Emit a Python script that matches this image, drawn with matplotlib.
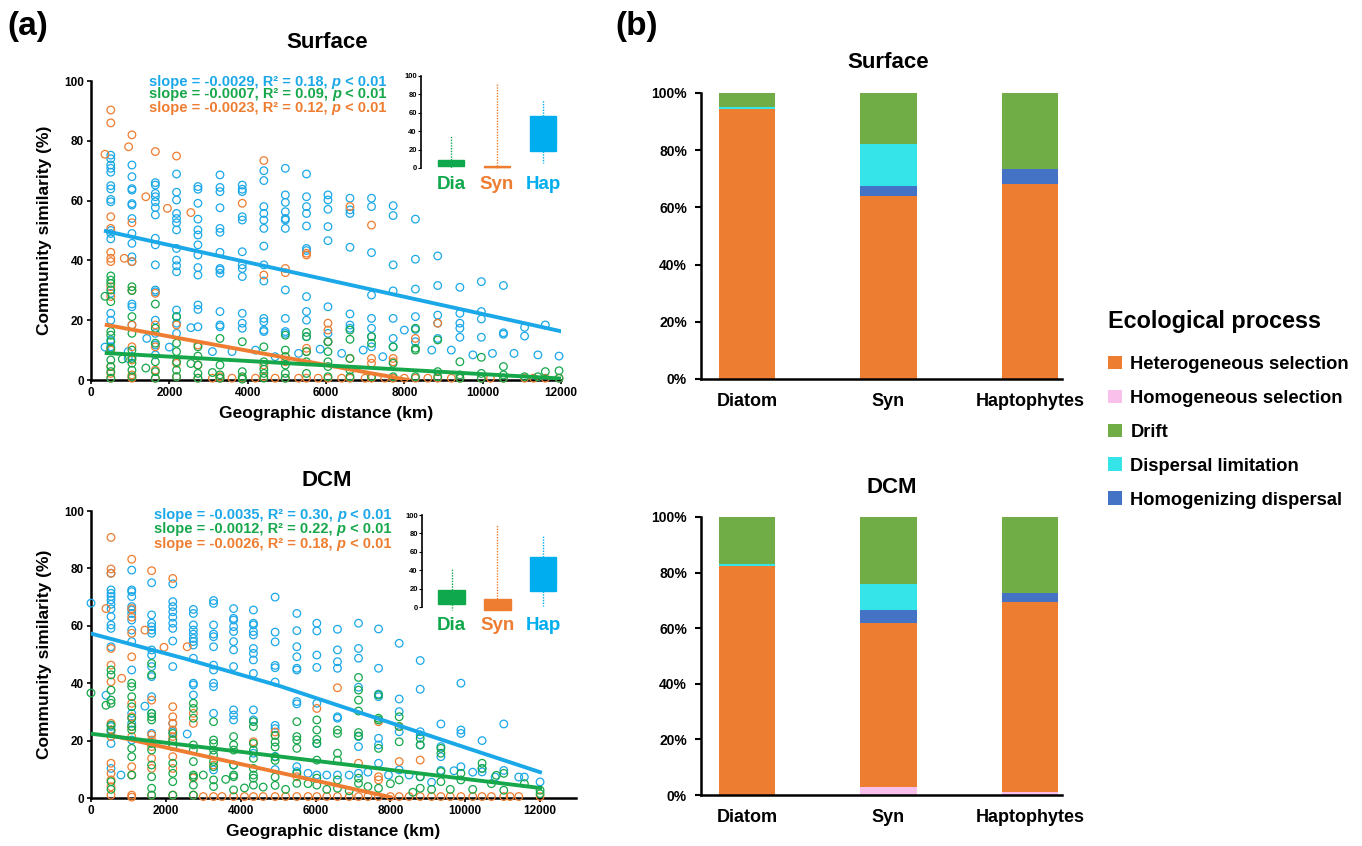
import matplotlib.pyplot as plt
from matplotlib.patches import Patch

plt.rcParams['font.family'] = ['Liberation Sans', 'DejaVu Sans']
plt.rcParams['font.weight'] = 'bold'
plt.rcParams['axes.labelweight'] = 'bold'

# ---------------- data: (a) distance-decay scatter ----------------
# distance (km) -> community similarity (%) read per column
surf_hap = {357: [11], 505: [75.2, 74, 71.9, 70.8, 69.5, 65, 63.9, 60.4, 59.6, 50, 49, 47.2, 29, 22.3, 20, 13.4, 11.1],
            950: [7.2, 9.5], 1045: [71.9, 68, 64, 63.5, 59, 58.5, 54, 49, 45.7, 41.2, 39.6, 25.4, 24.5, 18.4, 7.8],
            1424: [13.9], 1643: [66, 65.2, 62.4, 61.3, 59.6, 57.7, 55.2, 47.4, 45.2, 38.5, 30.1, 29.5, 20, 15.6, 11.7, 8.4],
            2000: [11], 2184: [68.9, 62.8, 60.2, 55.7, 54, 52.6, 50.2, 44, 40.1, 38.2, 36.2, 23.4, 21.2, 19, 15.6],
            2550: [17.5], 2730: [64.7, 63.8, 59.1, 53.8, 50.2, 48.5, 45.2, 41.8, 37.6, 35.1, 25.1, 23.6, 17.8],
            3100: [9.5], 3293: [68.6, 64.4, 63, 57.6, 50.7, 49.4, 42.7, 37.3, 36.8, 35.7, 22.9, 18.4, 17.8],
            3600: [9.5], 3862: [65.2, 63.8, 63, 54.6, 53.5, 42.9, 38.5, 37.3, 34.6, 22.3, 19, 17.3],
            4200: [10], 4413: [70, 66.7, 58, 55.7, 53.5, 50.7, 44.8, 38.5, 33.1, 20.6, 19.5, 16.7, 16.2],
            4700: [7.8], 4962: [70.8, 61.9, 59.4, 56.3, 54, 53.5, 50.7, 30.1, 20.6, 16.2, 15.6],
            5300: [8.9], 5502: [68.9, 61.3, 58, 55.7, 51.5, 44, 43.3, 27.9, 22.9, 20, 14.5],
            5850: [10.3], 6050: [61.9, 60.2, 57.1, 51.3, 46.6, 24.5, 15.6, 12.8],
            6400: [8.9], 6612: [60.8, 56.9, 55.7, 44.4, 22.1, 18.4, 17.3],
            6950: [10], 7162: [60.8, 58, 42.6, 28.4, 20.6, 17.3, 14.5, 11.1],
            7450: [7.8], 7714: [58.3, 55, 38.5, 29.8, 20.6, 13.9, 11.1],
            8000: [16.7], 8283: [53.8, 40.4, 30.4, 21.2, 16.9, 12.8],
            8700: [10], 8852: [41.5, 31.6, 21.7, 19, 13.9],
            9200: [10], 9418: [31, 22.3, 19, 17.3, 14.3],
            9750: [8.4], 9966: [32.9, 22.9, 20.4, 14.3],
            10250: [8.9], 10530: [31.6, 15.8, 15.3],
            10800: [8.9], 11070: [17.6, 14.7], 11410: [8.4], 11600: [18.4], 11950: [8]}
surf_dia = {357: [28], 505: [34.8, 33.4, 32.3, 30.1, 26.2, 16.2, 15, 12.8, 10.6, 6.7, 4.5, 2.8, 0.6],
            800: [7], 1045: [31.2, 29.9, 21.2, 15.6, 10, 7.2, 5.6, 3.3, 1.1], 1400: [4],
            1643: [25.4, 17.3, 12.3, 6.1, 2.8, 0.6], 2184: [21.2, 12.3, 9.5, 6.1, 3.3, 1.1],
            2550: [5.5], 2730: [11.1, 8, 5, 2.2, 0.6], 3100: [2.5], 3293: [13.9, 5, 1.7, 0.6],
            3862: [12.8, 2.8, 1.1, 0.3], 4413: [11.1, 6.1, 3.6, 2.2, 0.6], 4962: [15, 10, 7.8, 5, 2.2, 0.6],
            5502: [15.9, 14.5, 9.5, 6.1, 2.2], 6050: [12.8, 9.5, 6.1, 4.5, 1.1], 6612: [16.7, 13.6, 7.2, 3.3, 1.1],
            7162: [14.5, 12.3, 1.1], 7714: [11.1, 5.6, 1.1], 8283: [17.3, 10.6, 10, 1.1], 8852: [13.4, 2.8, 1.1],
            9418: [6.1, 1.7, 0.6], 9966: [7.6, 2.2, 0.6], 10530: [4.5, 1.7, 0.6], 11070: [1.1],
            11410: [1.1], 11600: [2.8], 11950: [3.1, 0.6]}
surf_syn = {357: [75.5], 505: [90.3, 86, 54.6, 50.7, 42.7, 40.7, 39.6, 31.2, 27.9, 10, 4.5, 2.2, 0.6],
            850: [40.7], 960: [78], 1045: [82, 52.6, 39.6, 30, 18.4, 11.1, 6.7, 1.7, 0.6], 1400: [61.3],
            1643: [76.4, 29, 18.4, 11.1, 3.3, 0.6], 1950: [57.4], 2184: [74.9, 18.4, 5.6, 1.1], 2550: [56],
            2730: [11.7, 5, 0.6], 3100: [0.6], 3293: [1.1, 0.6], 3600: [0.6], 3862: [59.1, 0.6], 4200: [0.6],
            4413: [73.4, 35.1, 5, 1.1], 4700: [0.6], 4962: [37.3, 35.9, 7.8, 6.1, 0.6], 5300: [0.6],
            5502: [42.4, 41.8, 10.6, 9.5, 0.6], 5800: [0.6], 6050: [19, 16.7, 12.8, 0.6], 6400: [0.6],
            6612: [58, 7.2, 0.6], 7000: [0.6], 7162: [51.8, 7.2, 5.6, 0.6], 7500: [0.6], 7714: [7.2, 6.1, 0.6],
            8000: [0.6], 8283: [13.9, 0.6], 8600: [0.6], 8852: [19, 0.6], 9200: [0.6], 9418: [0.6],
            9966: [0.6], 10200: [0.6], 10530: [0.6], 11070: [0.6], 11300: [0.6], 11600: [0.6], 11950: [0.6]}

dcm_hap = {0: [67.9], 400: [35.8], 535: [78.3, 72.5, 71.3, 70.2, 69, 67.5, 65.9, 63.2, 60.3, 59.1, 52.7, 24.9, 23.1, 19, 10.3],
           800: [8], 1088: [79.4, 72.5, 71.9, 70.2, 66.7, 65.5, 64.3, 62, 58.5, 54.5, 44.6, 29.5, 26, 20.2],
           1440: [32], 1620: [75, 63.8, 60.9, 59.7, 58.5, 57.4, 51.6, 49.8, 45.8, 42.3, 35.3, 29.5, 22.5],
           2185: [74.6, 68.4, 66.7, 64.9, 63, 60.9, 59.1, 54.7, 45.8, 26, 23.1], 2570: [22.3],
           2735: [65.7, 64.3, 60.3, 58.5, 57.1, 55.6, 54.5, 53.3, 48.7, 40, 39.4, 35.9],
           3275: [68.8, 67.8, 60.3, 57.1, 56.2, 52.7, 46.3, 44.6, 40, 38.8, 29.5, 9.8],
           3810: [66, 62.6, 62, 59.7, 58, 54.5, 51.6, 45.8, 30.7, 28.9, 27.2, 11.5],
           4340: [65.5, 60.9, 60.3, 58, 56.8, 52.1, 50.4, 48.1, 43.4, 30.7, 27.2, 15.6],
           4920: [70, 57.8, 54.4, 46.2, 45.4, 40.4, 25.3, 24.2, 14.5, 9.9],
           5500: [64.3, 58.3, 52.7, 49.2, 45.2, 44.6, 33.6, 32.8, 10.9, 9.2], 5800: [8.6],
           6034: [60.9, 58.2, 49.8, 45.5, 33, 19, 8], 6300: [8], 6586: [58.8, 51.6, 47.5, 45.2, 28.3, 27.8, 8],
           6900: [8], 7148: [60.9, 52.1, 48.7, 38.6, 21.4, 17.9, 8.6], 7400: [9],
           7683: [58.9, 45.2, 36.2, 35.3, 20.8, 18.5, 12.1], 7950: [8], 8235: [53.9, 34.5, 30.1, 23.1, 9.8],
           8500: [8], 8797: [47.9, 37.9, 23.1, 22, 18.5, 7.4], 9100: [5.5], 9350: [25.8, 17.9, 14.4, 9.6],
           9700: [9.5], 9885: [40, 23.7, 22.5, 10.9], 10200: [9], 10450: [20, 10.3, 9.1], 10800: [7.3],
           11030: [25.8, 9.6], 11430: [7.3], 11580: [7.3], 12000: [5.6]}
dcm_dia = {0: [36.6], 400: [32.3], 535: [44.6, 42.9, 37.6, 34.1, 33, 25.4, 23.7, 5.7, 3],
           1088: [40, 38.8, 35.3, 31.8, 27.8, 24.9, 23.7, 17.3, 14.4, 8],
           1620: [46.9, 42.9, 29.5, 28.3, 27.2, 19, 16.7, 11.5, 7.4, 3.4, 1],
           2185: [22.5, 20.2, 17.9, 12.1, 8.6, 5.7, 1], 2735: [33, 31.2, 27.8, 18.5, 16.7, 12.7, 8, 7.4, 4.5, 1],
           3000: [8], 3275: [26.6, 20.2, 19, 16.7, 15, 12.7, 10.9, 6.3, 4], 3600: [6.5],
           3810: [21.4, 18.5, 16.7, 11.5, 8, 7.4, 2.8], 4100: [3.5], 4340: [26.6, 24.9, 19, 16.7, 13.8, 10.3, 8, 6.9, 4.5],
           4600: [3.8], 4920: [21.8, 19.5, 17.8, 14.3, 13.1, 7.3, 4.4], 5200: [3], 5500: [26.6, 21.4, 20.2, 17.3, 8.6, 5.1],
           5800: [5], 6034: [27.2, 23.7, 20.4, 19, 13.2, 6.9, 4.5], 6300: [3], 6586: [23.7, 22.5, 15.6, 13.2, 6.3, 3.4],
           6900: [2.5], 7148: [42, 37.6, 34.1, 30.3, 22.8, 21.6, 6.9, 5.1], 7400: [4],
           7683: [35.9, 27.8, 27.2, 17.3, 3.4], 8000: [5], 8235: [28.3, 24.9, 19.6, 6.3], 8600: [2],
           8797: [20.8, 18.5, 7.4, 3.4], 9100: [3], 9350: [17.3, 15.6, 9.2, 5.7], 9600: [3], 9885: [8.6, 6.3],
           10200: [3], 10450: [12.1, 10.3], 10700: [5], 10830: [7.9], 11030: [8.6, 2.7], 11580: [5], 12000: [2.7, 1.5]}
dcm_syn = {400: [66], 535: [90.8, 79.8, 78.3, 52.1, 46.3, 40.5, 26, 23.7, 21.4, 12.1, 8.6, 6.3, 3.9, 1],
           820: [41.7], 1088: [83.2, 66, 63, 57.4, 49.2, 33, 28.3, 24.9, 21.4, 10.9, 8, 1, 0.3], 1440: [58.5],
           1620: [79.2, 34.1, 22, 20.2, 17.9, 13.8, 10.3, 1], 1950: [52.5],
           2185: [76.5, 31.8, 28.3, 26, 23.7, 21.4, 20.2, 17.9, 14.4, 10.3, 1], 2570: [52.7],
           2735: [29.5, 26, 7, 1], 3000: [0.5], 3275: [11.5, 0.5], 3500: [0.5], 3810: [0.5], 4100: [0.5],
           4340: [19.6, 0.5], 4600: [0.5], 4920: [23, 21.8, 0.5], 5200: [0.5], 5500: [7.4, 0.5], 5800: [0.5],
           6034: [31.2, 0.5], 6300: [0.5], 6586: [38.4, 0.5], 6900: [0.5], 7148: [12.1, 0.5], 7400: [0.5],
           7683: [26.6, 7.4, 6.3, 0.5], 8000: [0.5], 8235: [24.9, 12.7, 0.5], 8500: [0.5], 8797: [13.2, 0.5],
           9100: [0.5], 9350: [0.5], 9600: [0.5], 9885: [0.5], 10200: [0.5], 10450: [0.5], 10700: [0.5],
           11030: [0.5], 11200: [0.5], 11430: [0.5], 12000: [0.5]}

# regression lines
surf_fit_x = {'hap': [380, 12000], 'dia': [400, 12000], 'syn': [400, 8100]}
surf_fit_y = {'hap': [49.8, 16.3], 'dia': [9, 0.5], 'syn': [18.4, 0]}
dcm_fit_x = {'hap': [0, 2500, 5000, 7500, 10000, 12000], 'dia': [0, 12000], 'syn': [540, 8000]}
dcm_fit_y = {'hap': [57.3, 48.6, 39.2, 28.4, 17.6, 9], 'dia': [22.4, 3.5], 'syn': [21.8, 0.3]}

surf_stats = {'hap': ('-0.0029', '0.18'), 'dia': ('-0.0007', '0.09'), 'syn': ('-0.0023', '0.12')}
dcm_stats = {'hap': ('-0.0035', '0.30'), 'dia': ('-0.0012', '0.22'), 'syn': ('-0.0026', '0.18')}

# inset box plots: (whislo, q1, med, q3, whishi)
box_labels = ['Dia', 'Syn', 'Hap']
surf_box = [(0, 1.8, 5, 9, 36), (0, 0.8, 1.5, 2.2, 91), (5, 18, 37, 56.5, 74)]
dcm_box = [(-3, 3.6, 11, 18.8, 42), (-3.6, -3.6, 2, 8.7, 90), (1.4, 17, 36, 54.9, 77)]

# ---------------- data: (b) ecological processes ----------------
groups = ['Diatom', 'Syn', 'Haptophytes']
proc_names = ['Homogeneous selection', 'Heterogeneous selection', 'Homogenizing dispersal',
              'Dispersal limitation', 'Drift']
surf_proc = {'Homogeneous selection': [0, 0, 0],
             'Heterogeneous selection': [94.5, 64, 68.3],
             'Homogenizing dispersal': [0, 3.6, 5.3],
             'Dispersal limitation': [0.5, 14.5, 0],
             'Drift': [5, 17.9, 26.4]}
dcm_proc = {'Homogeneous selection': [0, 2.7, 1.2],
            'Heterogeneous selection': [82.5, 59.3, 68.3],
            'Homogenizing dispersal': [0, 4.5, 3.3],
            'Dispersal limitation': [0.5, 9.3, 0],
            'Drift': [17, 24.2, 27.2]}
legend_order = ['Heterogeneous selection', 'Homogeneous selection', 'Drift',
                'Dispersal limitation', 'Homogenizing dispersal']

col = {'hap': '#1BA8E8', 'dia': '#17A74B', 'syn': '#EE7D31'}
box_col = ['#10A84C', '#EE7D31', '#00AEEF']
proc_col = {'Heterogeneous selection': '#ED7D31', 'Homogeneous selection': '#F8C0EA',
            'Drift': '#70AD47', 'Dispersal limitation': '#35E4E8', 'Homogenizing dispersal': '#4472C4'}

W, H = 1362, 846
fig = plt.figure(figsize=(W / 100, H / 100), dpi=100)


def px_axes(left, top, right, bottom):
    return fig.add_axes([left / W, 1 - bottom / H, (right - left) / W, (bottom - top) / H])


def flatten(d):
    xs, ys = [], []
    for k, vals in d.items():
        xs += [k] * len(vals)
        ys += vals
    return xs, ys


def slope_text(ax, x, y, color, slope, r2):
    kw = dict(color=color, fontsize=10.5, fontweight='bold')
    t = ax.text(x, y, f"slope = {slope}, R² = {r2}, ", va='center', ha='left', **kw)
    t2 = ax.annotate("p", xy=(1, 0), xycoords=t, va='bottom', ha='left', style='italic', **kw)
    ax.annotate(" < 0.01", xy=(1, 0), xycoords=t2, va='bottom', ha='left', **kw)


def scatter_panel(ax, data, fit_x, fit_y, stats, xmax, text_x, text_y):
    for key in ['hap', 'syn', 'dia']:
        xs, ys = flatten(data[key])
        ax.scatter(xs, ys, s=30, facecolors='none', edgecolors=col[key], linewidths=0.9, clip_on=False, zorder=3)
    for key in ['hap', 'syn', 'dia']:
        ax.plot(fit_x[key], fit_y[key], color=col[key], lw=2.8, zorder=4)
    ax.set_xlim(0, xmax)
    ax.set_ylim(0, 100)
    ax.set_xticks(range(0, 12001, 2000))
    ax.set_yticks(range(0, 101, 20))
    for s in ['top', 'right']:
        ax.spines[s].set_visible(False)
    for s in ['left', 'bottom']:
        ax.spines[s].set_linewidth(1.8)
        ax.spines[s].set_zorder(2)
    ax.tick_params(labelsize=8.5, length=3, width=1.2, pad=2)
    ax.set_xlabel('Geographic distance (km)', fontsize=12.5, labelpad=5)
    ax.set_ylabel('Community similarity (%)', fontsize=12.5, labelpad=9)
    for i, key in enumerate(['hap', 'dia', 'syn']):
        slope_text(ax, text_x, text_y[i], col[key], *stats[key])


def box_panel(ax, stats, label_y):
    bs = [dict(whislo=a, q1=b, med=c, q3=d, whishi=e) for a, b, c, d, e in stats]
    bp = ax.bxp(bs, positions=[0, 1, 2], widths=0.58, patch_artist=True, showfliers=False, showcaps=False)
    for i, c in enumerate(box_col):
        bp['boxes'][i].set(facecolor=c, edgecolor=c)
        bp['medians'][i].set(color=c)
        for w in bp['whiskers'][2 * i:2 * i + 2]:
            w.set(color=c, linestyle=(0, (1, 1)), linewidth=1)
    ax.set_xlim(-0.65, 2.48)
    ax.set_ylim(-8 if min(s[0] for s in stats) < 0 else -6, 100)
    ax.set_yticks(range(0, 101, 20))
    ax.spines['left'].set_bounds(0, 100)
    ax.spines['left'].set_linewidth(1.2)
    for s in ['top', 'right', 'bottom']:
        ax.spines[s].set_visible(False)
    ax.set_xticks([])
    ax.tick_params(axis='y', labelsize=5.5, length=2, width=0.8, pad=1)
    ax.patch.set_alpha(0)
    for i, lab in enumerate(box_labels):
        ax.text(i, label_y, lab, color=box_col[i], fontsize=13.5, fontweight='bold',
                ha='center', va='center', clip_on=False)


def bar_panel(ax, proc):
    x = range(len(groups))
    bottom = [0] * len(groups)
    for name in proc_names:
        vals = proc[name]
        ax.bar(x, vals, 0.4, bottom=bottom, color=proc_col[name], edgecolor='none')
        bottom = [b + v for b, v in zip(bottom, vals)]
    ax.set_xlim(-0.325, 2.226)
    ax.set_ylim(0, 100)
    ax.set_yticks(range(0, 101, 20))
    ax.set_yticklabels([f'{v}%' for v in range(0, 101, 20)])
    ax.set_xticks(list(x))
    ax.set_xticklabels(groups)
    for s in ['top', 'right']:
        ax.spines[s].set_visible(False)
    for s in ['left', 'bottom']:
        ax.spines[s].set_linewidth(1.8)
    ax.tick_params(axis='y', labelsize=10, length=4, width=1.5, pad=6)
    ax.tick_params(axis='x', labelsize=13, length=0, pad=10)


# (a) surface
ax1 = px_axes(91, 81, 561, 380)
scatter_panel(ax1, {'hap': surf_hap, 'dia': surf_dia, 'syn': surf_syn}, surf_fit_x, surf_fit_y, surf_stats,
              12000, 1480, [99.7, 95.6, 91])
ins1 = px_axes(421, 76, 565, 173.5)
box_panel(ins1, surf_box, -17.5)

# (a) DCM
ax2 = px_axes(91, 511, 576, 798)
scatter_panel(ax2, {'hap': dcm_hap, 'dia': dcm_dia, 'syn': dcm_syn}, dcm_fit_x, dcm_fit_y, dcm_stats,
              12960, 1685, [98.6, 93.7, 88.5])
ins2 = px_axes(422, 515, 565, 614.4)
box_panel(ins2, dcm_box, -20.5)

# (b) bars
bx1 = px_axes(701, 93, 1062, 379)
bar_panel(bx1, surf_proc)
bx2 = px_axes(701, 517, 1062, 795)
bar_panel(bx2, dcm_proc)

fig.text(327 / W, 1 - 42 / H, 'Surface', fontsize=16, ha='center', va='center')
fig.text(327 / W, 1 - 480 / H, 'DCM', fontsize=16, ha='center', va='center')
fig.text(888 / W, 1 - 63 / H, 'Surface', fontsize=16, ha='center', va='center')
fig.text(892 / W, 1 - 487 / H, 'DCM', fontsize=16, ha='center', va='center')
fig.text(28 / W, 1 - 27 / H, '(a)', fontsize=24, ha='center', va='center')
fig.text(637 / W, 1 - 27 / H, '(b)', fontsize=24, ha='center', va='center')

handles = [Patch(facecolor=proc_col[n], edgecolor='none', label=n) for n in legend_order]
leg = fig.legend(handles=handles, loc='upper left', bbox_to_anchor=(1101 / W, 1 - 303 / H), frameon=False,
                 title='Ecological process', alignment='left', fontsize=13.2, title_fontsize=16.8,
                 handlelength=0.75, handleheight=0.75, handletextpad=0.45, labelspacing=0.92, borderaxespad=0)
leg.get_title().set_fontweight('bold')
leg._legend_box.sep = 16

fig.savefig('out.png', dpi=100)
